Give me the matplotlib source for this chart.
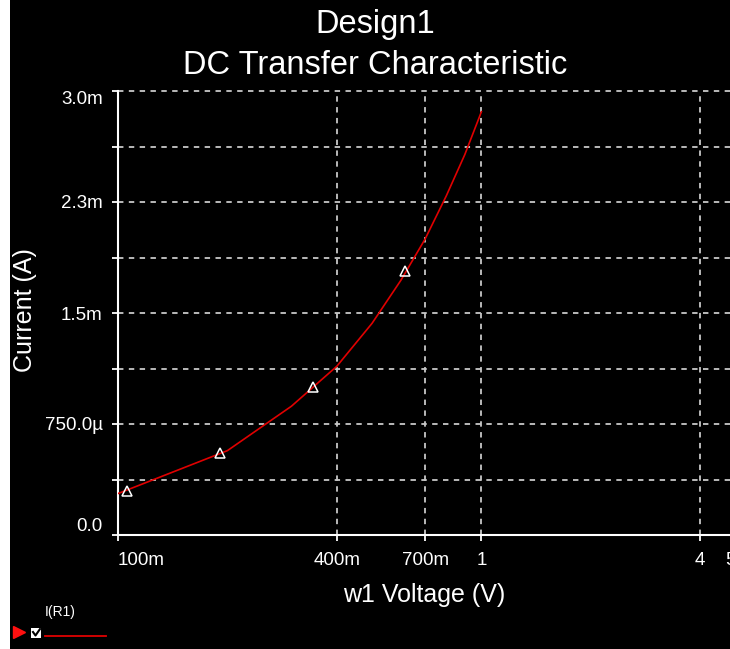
import matplotlib
matplotlib.use('Agg')
import matplotlib.pyplot as plt
import matplotlib.patches as mpatches
import matplotlib.lines as mlines

# ==============================
# 数据
# ==============================
voltage = [0.1, 0.2, 0.3, 0.4, 0.5, 0.6, 0.7, 0.8, 0.9, 1.0]  # V
current = [0.28e-3, 0.57e-3, 0.87e-3, 1.14e-3, 1.43e-3,
           1.72e-3, 2.00e-3, 2.29e-3, 2.57e-3, 2.86e-3]     # A

# 曲线上的三角形标记
marker_v = [0.106, 0.191, 0.344, 0.615]
marker_i = [0.30e-3, 0.555e-3, 1.0e-3, 1.785e-3]

x_ticks = [0.1, 0.4, 0.7, 1, 4, 5]
x_ticklabels = ['100m', '400m', '700m', '1', '4', '5']
x_grid = [0.4, 0.7, 1, 4, 5]

y_ticks = [0.0, 0.75e-3, 1.5e-3, 2.25e-3, 3.0e-3]
y_ticklabels = ['0.0', '750.0µ', '1.5m', '2.3m', '3.0m']
y_minor = [0.375e-3, 1.125e-3, 1.875e-3, 2.625e-3]

title_lines = ['Design1', 'DC Transfer Characteristic']
x_label = 'w1 Voltage (V)'
y_label = 'Current (A)'
legend_label = 'I(R1)'

# ==============================
# 样式参数
# ==============================
W, H = 730, 649
DPI = 100
FONT = 'Liberation Sans'
BG = 'black'
FG = 'white'
GRID_COLOR = '#c8c8c8'
CURVE_COLOR = '#e00000'
X_MAX = 5.05
AX_RIGHT = 737  # 坐标轴右端（像素），超出图片宽度

plt.rcParams['font.family'] = FONT

fig = plt.figure(figsize=(W / DPI, H / DPI), dpi=DPI, facecolor='white')

# 左边的白色窄条，其余为黑色背景
fig.patches.append(mpatches.Rectangle((10 / W, 0), 1, 1, transform=fig.transFigure,
                                      facecolor=BG, edgecolor='none', zorder=-5))

ax = fig.add_axes([118 / W, 1 - 535 / H, (AX_RIGHT - 118) / W, (535 - 91) / H])
ax.set_zorder(1)
ax.set_facecolor(BG)
ax.set_xscale('log')
ax.set_xlim(0.1, X_MAX)
ax.set_ylim(0, 3.0e-3)

# 网格线（虚线）
for yv in y_ticks[1:] + y_minor:
    ax.axhline(yv, color=GRID_COLOR, lw=1.3, ls=(0, (3, 3)), clip_on=False, zorder=1)
for xv in x_grid:
    ax.axvline(xv, ymax=0.99, color=GRID_COLOR, lw=1.3, ls=(0, (3, 3)), clip_on=False, zorder=1)

# 曲线和标记
ax.plot(voltage, current, color=CURVE_COLOR, lw=1.2, zorder=3)
ax.plot(marker_v, marker_i, ls='none', marker='^', markersize=7,
        markerfacecolor='none', markeredgecolor=FG, markeredgewidth=1.1, zorder=4)

# 坐标轴
for side in ['top', 'right']:
    ax.spines[side].set_visible(False)
for side in ['left', 'bottom']:
    ax.spines[side].set_color(FG)
    ax.spines[side].set_linewidth(1.5)

ax.set_xticks(x_ticks)
ax.set_xticklabels(x_ticklabels)
ax.xaxis.set_minor_locator(matplotlib.ticker.NullLocator())
ax.set_yticks(y_ticks)
ax.set_yticklabels(y_ticklabels)
ax.set_yticks(y_minor, minor=True)

ax.tick_params(axis='both', which='both', direction='out', length=4, width=1.3,
               color=FG, labelcolor=FG, labelsize=13.5)
ax.tick_params(axis='y', which='both', pad=7)
ax.tick_params(axis='x', which='both', pad=8)

# 首尾刻度标签向内对齐
xlabels = ax.get_xticklabels()
xlabels[0].set_horizontalalignment('left')
xlabels[-1].set_horizontalalignment('right')
ylabels = ax.get_yticklabels()
ylabels[0].set_verticalalignment('bottom')
ylabels[-1].set_verticalalignment('top')

ax.set_xlabel(x_label, color=FG, fontsize=18)
ax.set_ylabel(y_label, color=FG, fontsize=18)
ax.xaxis.set_label_coords((424 - 118) / (AX_RIGHT - 118), -(595 - 535) / (535 - 91))
ax.yaxis.set_label_coords(-(118 - 25) / (AX_RIGHT - 118), (535 - 310) / (535 - 91))
ax.xaxis.label.set_verticalalignment('center')
ax.yaxis.label.set_verticalalignment('center')

# 标题
fig.text(375 / W, 1 - 25 / H, title_lines[0], color=FG, fontsize=23.5,
         ha='center', va='center')
fig.text(375 / W, 1 - 65 / H, title_lines[1], color=FG, fontsize=23.5,
         ha='center', va='center')

# 左下角图例
fig.lines.append(mlines.Line2D([19 / W], [1 - 632 / H], marker='>', markersize=8,
                               color='#ff1010', ls='none', transform=fig.transFigure))
fig.patches.append(mpatches.Rectangle((31 / W, 1 - 638 / H), 10 / W, 10 / H,
                                      transform=fig.transFigure, facecolor=FG,
                                      edgecolor='none'))
fig.lines.append(mlines.Line2D([33 / W, 35.5 / W, 40 / W],
                               [1 - 632 / H, 1 - 635.5 / H, 1 - 629 / H],
                               color='black', lw=1.5, transform=fig.transFigure))
fig.lines.append(mlines.Line2D([45 / W, 106 / W], [1 - 636 / H, 1 - 636 / H],
                               color=CURVE_COLOR, lw=1.3, transform=fig.transFigure))
fig.text(45 / W, 1 - 612 / H, legend_label, color=FG, fontsize=10,
         ha='left', va='center')

fig.savefig('out.png', dpi=DPI, facecolor=fig.get_facecolor())
